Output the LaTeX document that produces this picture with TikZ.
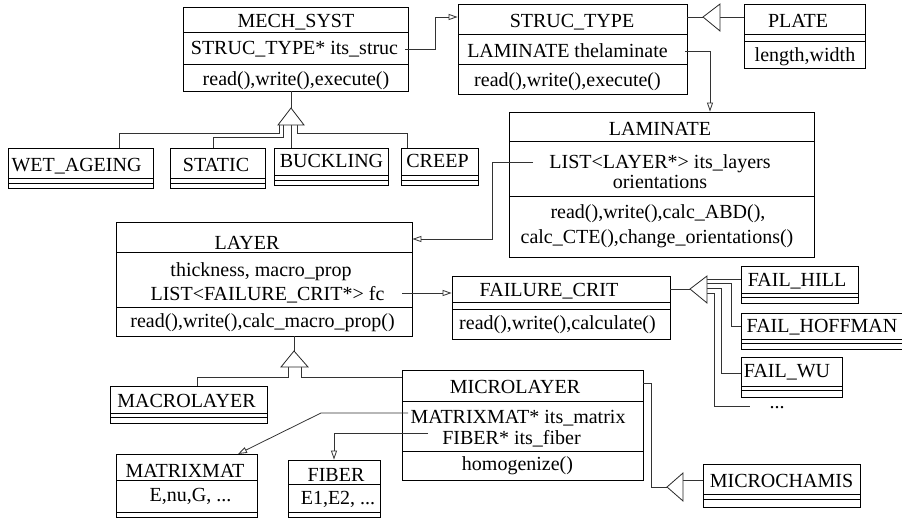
\documentclass[tikz,border=0pt]{standalone}
\usepackage{fontspec}
\setmainfont{Liberation Serif}
\usetikzlibrary{arrows.meta,fit}
\tikzset{
  box/.style={draw=black, line width=0.8pt, inner sep=0pt},
  rule/.style={draw=black, line width=0.8pt},
  conn/.style={draw=black!80, line width=0.8pt},
  assoc/.style={conn, -{Triangle[open,length=9pt,width=6pt]}},
  inh/.style={draw=black!85, line width=0.8pt, fill=white},
  txt/.style={font=\fontsize{20}{24}\selectfont, inner sep=0pt, anchor=base},
}
\newcommand{\umlclass}[6]{%
  \node[box, fit={(#2,#3) (#4,#5)}] (#1) {};
  \foreach \dd in {#6} {\draw[rule] (#2,\dd) -- (#4,\dd);}
}
\begin{document}
\begin{tikzpicture}[x=1pt,y=-1pt]
\useasboundingbox (0,0) rectangle (902,519);

% ---------- classes ----------
\umlclass{mech}{183}{7}{408}{91}{32,64}
\umlclass{struc}{458}{4}{687}{94}{34,64}
\umlclass{plate}{744}{4}{865}{68}{34,41}
\umlclass{lam}{509}{112}{814}{257}{141,196}
\umlclass{wet}{8}{148}{153}{188}{178,183}
\umlclass{static}{170}{148}{265}{188}{178,183}
\umlclass{buck}{274}{148}{388}{185}{175,180}
\umlclass{creep}{401}{148}{478}{185}{175,180}
\umlclass{layer}{116}{222}{412}{336}{252,307}
\umlclass{fail}{452}{276}{670}{339}{302,309}
\umlclass{hill}{741}{266}{858}{303}{293,297}
\umlclass{hoff}{741}{313}{906}{349}{339,343}
\umlclass{wu}{741}{357}{842}{397}{386,390}
\umlclass{macro}{110}{386}{267}{423}{413,417}
\umlclass{micro}{402}{370}{643}{480}{401,451}
\umlclass{matrix}{116}{454}{257}{517}{480,512}
\umlclass{fiber}{288}{460}{380}{517}{484,512}
\umlclass{chamis}{703}{464}{860}{507}{494,499}

% ---------- texts ----------
\node[txt] (mech-h) at (296,28) {MECH\_SYST};
\node[txt] (mech-a) at (294.5,55) {STRUC\_TYPE* its\_struc};
\node[txt] (mech-m) at (296,85) {read(),write(),execute()};

\node[txt] (struc-h) at (572,28) {STRUC\_TYPE};
\node[txt] (struc-a) at (567.5,58) {LAMINATE thelaminate};
\node[txt] (struc-m) at (567.5,86) {read(),write(),execute()};

\node[txt] (plate-h) at (798,28) {PLATE};
\node[txt] (plate-a) at (805,62) {length,width};

\node[txt] (lam-h) at (660,135) {LAMINATE};
\node[txt] (lam-a1) at (660,168) {LIST<LAYER*> its\_layers};
\node[txt] (lam-a2) at (660,188) {orientations};
\node[txt] (lam-m1) at (658,218) {read(),write(),calc\_ABD(),};
\node[txt] (lam-m2) at (657,243) {calc\_CTE(),change\_orientations()};

\node[txt] (wet-h) at (76.5,171) {WET\_AGEING};
\node[txt] (static-h) at (216,171) {STATIC};
\node[txt] (buck-h) at (331.5,167) {BUCKLING};
\node[txt] (creep-h) at (437.5,167) {CREEP};

\node[txt] (layer-h) at (247,249) {LAYER};
\node[txt] (layer-a1) at (261,276) {thickness, macro\_prop};
\node[txt] (layer-a2) at (267.5,300) {LIST<FAILURE\_CRIT*> fc};
\node[txt] (layer-m) at (262.5,327) {read(),write(),calc\_macro\_prop()};

\node[txt] (fail-h) at (549,296) {FAILURE\_CRIT};
\node[txt] (fail-m) at (557.5,329) {read(),write(),calculate()};

\node[txt] (hill-h) at (797,286) {FAIL\_HILL};
\node[txt] (hoff-h) at (822,332) {FAIL\_HOFFMAN};
\node[txt] (wu-h) at (787,377) {FAIL\_WU};
\node[txt] (dots) at (777,408) {...};

\node[txt] (macro-h) at (186.5,407) {MACROLAYER};

\node[txt] (micro-h) at (515,393) {MICROLAYER};
\node[txt] (micro-a1) at (518,423) {MATRIXMAT* its\_matrix};
\node[txt] (micro-a2) at (511.5,444) {FIBER* its\_fiber};
\node[txt] (micro-m) at (517.5,470) {homogenize()};

\node[txt] (matrix-h) at (185,477) {MATRIXMAT};
\node[txt] (matrix-a) at (190.5,501) {E,nu,G, ...};

\node[txt] (fiber-h) at (336,481) {FIBER};
\node[txt] (fiber-a) at (338,504) {E1,E2, ...};

\node[txt] (chamis-h) at (781.5,487) {MICROCHAMIS};

% ---------- associations ----------
\coordinate (s1) at (405,49);
\draw[assoc] (s1) -- (435,49) -- (435,17) -- (struc.west |- 0,17);

\coordinate (s2) at (685,51);
\draw[assoc] (s2) -- (710,51) -- (lam.north -| 710,0);

\coordinate (s3) at (533,162);
\draw[assoc] (s3) -- (492,162) -- (492,239) -- (layer.east |- 0,239);

\coordinate (s4) at (402,293);
\draw[assoc] (s4) -- (fail.west |- 0,293);

\coordinate (s5) at (408,413);
\draw[assoc] (s5) -- (321,413) -- (238,454);

\coordinate (s6) at (428,433);
\draw[assoc] (s6) -- (334,433) -- (fiber.north -| 334,0);

% ---------- inheritance: PLATE -> STRUC_TYPE ----------
\coordinate (tp) at (703,17);
\draw[conn] (plate.west |- 0,17) -- (720,17);
\draw[conn] (tp) -- (struc.east |- 0,17);
\draw[inh] (tp) -- (720,4) -- (720,31) -- cycle;

% ---------- inheritance: subclasses -> MECH_SYST ----------
\coordinate (tm) at (291,108);
\draw[conn] (mech.south -| tm) -- (tm);
\draw[conn] (279,125) -- (279,133) -- (119,133) -- (wet.north -| 119,0);
\draw[conn] (283,125) -- (283,137) -- (213,137) -- (static.north -| 213,0);
\draw[conn] (291,125) -- (buck.north -| 291,0);
\draw[conn] (297,125) -- (297,133) -- (407,133) -- (creep.north -| 407,0);
\draw[inh] (tm) -- (304,125) -- (278,125) -- cycle;

% ---------- inheritance: FAIL_* -> FAILURE_CRIT ----------
\coordinate (tf) at (690,289);
\draw[conn] (fail.east |- tf) -- (tf);
\draw[conn] (707,279) -- (hill.west |- 0,279);
\draw[conn] (707,283) -- (731,283) -- (731,326) -- (hoff.west |- 0,326);
\draw[conn] (707,288) -- (721,288) -- (721,373) -- (wu.west |- 0,373);
\draw[conn] (707,293) -- (714,293) -- (714,406) -- (750,406);
\draw[inh] (tf) -- (707,276) -- (707,303) -- cycle;

% ---------- inheritance: MACRO/MICRO -> LAYER ----------
\coordinate (tl) at (294,351);
\draw[conn] (layer.south -| tl) -- (tl);
\draw[conn] (288,367) -- (288,377) -- (197,377) -- (macro.north -| 197,0);
\draw[conn] (301,367) -- (301,377) -- (micro.west |- 0,377);
\draw[inh] (tl) -- (308,367) -- (281,367) -- cycle;

% ---------- inheritance: MICROCHAMIS -> MICROLAYER ----------
\coordinate (tc) at (667,487);
\draw[conn] (micro.east |- 0,383) -- (651,383) -- (651,487) -- (tc);
\draw[conn] (683,480) -- (chamis.west |- 0,480);
\draw[inh] (tc) -- (683,473) -- (683,501) -- cycle;
\end{tikzpicture}
\end{document}
